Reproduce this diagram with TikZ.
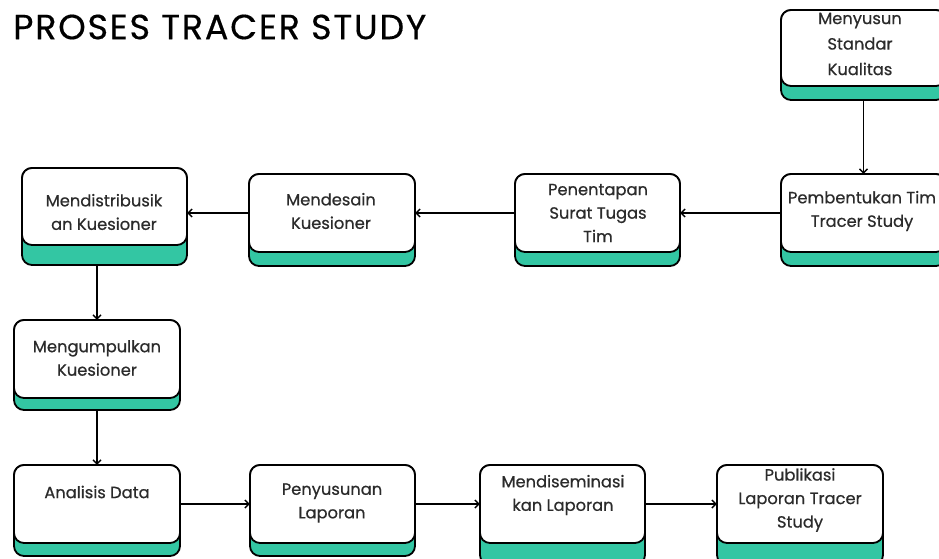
\documentclass[tikz,border=0pt]{standalone}
\usepackage{fontspec}
\setmainfont{Poppins}
\newfontfamily\bodyfont{Poppins}[FakeBold=0.6]
\newfontfamily\titlefont{Poppins}[FakeBold=0.4, LetterSpace=5]
\usetikzlibrary{arrows.meta}
\definecolor{tealbar}{HTML}{33C6A3}
\definecolor{txt}{HTML}{2B2B2B}
\tikzset{
  shadowbox/.style={draw=black, line width=1.8pt, fill=tealbar, rounded corners=10pt},
  whitebox/.style={draw=black, line width=1.8pt, fill=white, rounded corners=10pt},
  boxtext/.style={font=\bodyfont\fontsize{16.3}{23.5}\selectfont, text=txt, align=center, inner sep=0pt},
  flow/.style={draw=black, line width=1.7pt, -{Straight Barb[length=4pt,width=8pt,line width=1.4pt]}},
  anchorbox/.style={inner sep=0pt, draw=none}
}
% #1 name, #2 x1, #3 top, #4 x2, #5 white bottom, #6 teal bottom
\newcommand{\procbox}[6]{%
  \draw[shadowbox] (#2,#3) rectangle (#4,#6);
  \draw[whitebox] (#2,#3) rectangle (#4,#5);
  \path (#2,#3) -- (#4,#5) node[midway, anchorbox, minimum width={#4-#2}, minimum height={#5-#3}] (#1) {};
  \path (#2,#3) -- (#4,#6) node[midway, anchorbox, minimum width={#4-#2}, minimum height={#6-#3}] (#1-s) {};
}
\begin{document}
\begin{tikzpicture}[x=1pt,y=-1pt]
\clip (0,0) rectangle (939,559);
\fill[white] (0,0) rectangle (939,559);

\node[anchor=west, inner sep=0pt, font=\titlefont\fontsize{35}{35}\selectfont] (title) at (13,27) {PROSES TRACER STUDY};

\procbox{menyusun}{781}{10}{946}{86}{100}
\procbox{pembentukan}{781}{174}{946}{252}{266}
\procbox{penentapan}{515}{174}{680}{252}{266}
\procbox{mendesain}{249}{174}{415}{252}{266}
\procbox{distrib}{22}{168}{187}{245}{265}
\procbox{kumpul}{14}{320}{180}{398}{410}
\procbox{analisis}{14}{465}{180}{543}{556}
\procbox{penyusunan}{250}{465}{415}{543}{556}
\procbox{diseminasi}{480}{465}{645}{543}{565}
\procbox{publikasi}{717}{465}{883}{543}{565}

\node[boxtext, font=\bodyfont\fontsize{16.3}{25.5}\selectfont] (menyusun-t) at (860,44) {Menyusun\\Standar\\Kualitas};
\node[boxtext] (pembentukan-t) at (862,211) {Pembentukan Tim\\Tracer Study};
\node[boxtext] (penentapan-t) at (598,213) {Penentapan\\Surat Tugas\\Tim};
\node[boxtext] (mendesain-t) at (331,211) {Mendesain\\Kuesioner};
\node[boxtext] (distrib-t) at (104,212) {Mendistribusik\\an Kuesioner};
\node[boxtext] (kumpul-t) at (97,358) {Mengumpulkan\\Kuesioner};
\node[boxtext] (analisis-t) at (97,492) {Analisis Data};
\node[boxtext] (penyusunan-t) at (332,503) {Penyusunan\\Laporan};
\node[boxtext] (diseminasi-t) at (563,495) {Mendiseminasi\\kan Laporan};
\node[boxtext] (publikasi-t) at (800,500) {Publikasi\\Laporan Tracer\\Study};

\draw[flow] (menyusun-s.south) -- (pembentukan.north);
\draw[flow] (pembentukan.west) -- (penentapan.east);
\draw[flow] (penentapan.west) -- (mendesain.east);
\draw[flow] (mendesain.west) -- (mendesain.west -| distrib.east);
\draw[flow] (distrib-s.south -| kumpul.north) -- (kumpul.north);
\draw[flow] (kumpul-s.south) -- (analisis.north);
\draw[flow] (analisis.east) -- (penyusunan.west);
\draw[flow] (penyusunan.east) -- (diseminasi.west);
\draw[flow] (diseminasi.east) -- (publikasi.west);
\end{tikzpicture}
\end{document}
